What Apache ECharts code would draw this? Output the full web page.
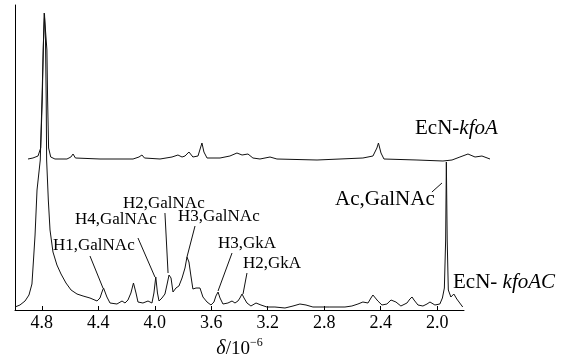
<!DOCTYPE html>
<html>
<head>
<meta charset="utf-8">
<script src="https://cdn.jsdelivr.net/npm/echarts@6/dist/echarts.min.js"></script>
<style>html,body{margin:0;padding:0;background:#fff;}#c{width:563px;height:360px;}</style>
</head>
<body>
<div id="c"></div>
<script>
// ---- data (chemical shift in ppm, relative intensity) ----
var tickValues = [4.8, 4.4, 4.0, 3.6, 3.2, 2.8, 2.4, 2.0];

// EcN-kfoAC (lower trace)
var lowerPpm = [4.990,4.955,4.919,4.891,4.870,4.859,4.848,4.834,4.811,4.799,4.788,4.781,4.774,4.769,4.766,4.754,4.742,4.721,4.693,4.664,4.629,4.593,4.551,4.508,4.459,4.409,4.388,4.374,4.363,4.353,4.339,4.317,4.268,4.232,4.211,4.190,4.169,4.151,4.133,4.119,4.084,4.048,4.020,4.006,3.993,3.981,3.970,3.949,3.928,3.914,3.899,3.885,3.871,3.850,3.829,3.807,3.786,3.772,3.758,3.744,3.730,3.708,3.694,3.680,3.659,3.630,3.602,3.581,3.567,3.552,3.538,3.517,3.482,3.453,3.432,3.411,3.397,3.382,3.368,3.347,3.319,3.283,3.248,3.206,3.149,3.078,3.021,2.972,2.929,2.880,2.760,2.653,2.604,2.561,2.526,2.490,2.469,2.455,2.441,2.420,2.391,2.356,2.327,2.313,2.292,2.257,2.214,2.193,2.178,2.164,2.136,2.101,2.072,2.051,2.037,2.016,1.981,1.963,1.949,1.940,1.935,1.929,1.921,1.903,1.882,1.861,1.840,1.819];
var lowerInt = [3,5,9,15,26,50,75,120,150,210,270,296,270,210,150,110,80,58,45,36,27,20,16,14,12,9,12,18,22,21,13,7,6,9,7,10,17,27,17,8,7,9,7,17,33,17,9,12,16,25,35,32,18,22,24,32,42,53,48,34,21,22,24,22,13,8,5,8,14,18,12,6,7,9,7,9,12,16,12,7,4,7,5,3,3,2,4,6,5,3,3,3,4,6,8,7,12,15,13,9,5,6,10,12,8,4,7,11,13,10,5,4,6,8,7,5,6,12,22,70,148,70,20,13,16,11,7,3];

// EcN-kfoA (upper trace)
var upperPpm = [4.898,4.863,4.827,4.808,4.797,4.790,4.783,4.771,4.764,4.759,4.752,4.737,4.707,4.622,4.594,4.579,4.562,4.388,4.154,4.112,4.091,4.073,3.963,3.878,3.836,3.807,3.786,3.758,3.730,3.694,3.666,3.652,3.630,3.538,3.468,3.418,3.382,3.340,3.305,3.255,3.184,3.135,2.851,2.526,2.455,2.427,2.416,2.398,2.377,2.143,1.959,1.895,1.839,1.782,1.732,1.683,1.626];
var upperInt = [151,152,154,162,210,260,297,297,260,210,162,153,151,151,153,156,152,151,151,153,155,152,151,153,155,153,154,158,153,154,167,158,152,152,154,157,155,156,152,151,153,151,150,152,154,162,167,157,151,150,149,150,153,156,153,154,151];

// peak assignment labels and leader lines [ppmFrom, intFrom, ppmTo, intTo]
var peakLabels = ['H1,GalNAc','H4,GalNAc','H2,GalNAc','H3,GalNAc','H3,GkA','H2,GkA','Ac,GalNAc'];
var leaderLines = [
  [4.459,54,4.367,22],
  [4.119,72,3.999,33],
  [3.928,97,3.906,37],
  [3.715,84,3.772,53],
  [3.453,57,3.552,19],
  [3.347,37,3.375,16],
  [2.037,118,1.966,127]
];

function pairs(xs, ys){ return xs.map(function(v,i){ return [v, ys[i]]; }); }

var FONT = 'Liberation Serif';
var chart = echarts.init(document.getElementById('c'), null, {renderer:'canvas'});

// label layout (pixel positions of text; left, middle)
var labelPos = [[53,246],[75,220],[123,204],[178,217],[218,244],[243,264],[335,201]];
var labelSize = [17,17,17,17,17,17,21];

var graphics = [];
peakLabels.forEach(function(t,i){
  graphics.push({type:'text', left:labelPos[i][0], top:labelPos[i][1]-labelSize[i]*0.55,
    style:{text:t, fontFamily:FONT, fontSize:labelSize[i], fill:'#000'}});
});
graphics.push({type:'text', left:415, top:118, style:{text:'EcN-{i|kfoA}', fontFamily:FONT, fontSize:21, fill:'#000', rich:{i:{fontStyle:'italic', fontFamily:FONT, fontSize:21}}}});
graphics.push({type:'text', left:453, top:272, style:{text:'EcN- {i|kfoAC}', fontFamily:FONT, fontSize:21, fill:'#000', rich:{i:{fontStyle:'italic', fontFamily:FONT, fontSize:21}}}});

chart.setOption({
  animation:false,
  backgroundColor:'#fff',
  grid:[
    {left:15, right:99, top:5, bottom:50, containLabel:false, outerBoundsMode:'none'},
    {left:15, right:73, top:5, bottom:50, containLabel:false, outerBoundsMode:'none'}
  ],
  xAxis:[{
    gridIndex:0, type:'value', inverse:true, min:1.81, max:4.99,
    name:'{i|δ}{n|/10}{s|−6}', nameLocation:'middle', nameGap:26,
    nameTextStyle:{fontFamily:FONT, fontSize:19, color:'#000',
      rich:{
        i:{fontStyle:'italic', fontFamily:FONT, fontSize:20, color:'#000', verticalAlign:'bottom', lineHeight:22},
        n:{fontFamily:FONT, fontSize:19, color:'#000', verticalAlign:'bottom', lineHeight:22},
        s:{fontFamily:FONT, fontSize:12, color:'#000', verticalAlign:'top', lineHeight:22}
      }},
    axisLine:{show:true, onZero:false, lineStyle:{color:'#000', width:1}},
    axisTick:{show:true, inside:true, length:4, customValues:tickValues, lineStyle:{color:'#000'}},
    axisLabel:{show:true, customValues:tickValues, margin:4, fontFamily:FONT, fontSize:18, color:'#000',
      formatter:function(v){ return v.toFixed(1); }},
    splitLine:{show:false}
  },{
    gridIndex:1, type:'value', inverse:true, min:1.626, max:4.99, show:false
  }],
  yAxis:[{
    gridIndex:0, type:'value', min:0, max:305,
    axisLine:{show:true, onZero:false, lineStyle:{color:'#000', width:1}},
    axisTick:{show:false}, axisLabel:{show:false}, splitLine:{show:false}
  },{
    gridIndex:1, type:'value', min:0, max:305, show:false
  }],
  series:[
    {type:'line', name:'EcN-kfoAC', xAxisIndex:0, yAxisIndex:0, data:pairs(lowerPpm, lowerInt), showSymbol:false, symbol:'none',
     lineStyle:{color:'#111', width:1}, clip:false, z:2,
     markLine:{silent:true, symbol:'none', label:{show:false}, lineStyle:{color:'#111', width:1, type:'solid'},
       data:leaderLines.map(function(l){ return [{coord:[l[0],l[1]]},{coord:[l[2],l[3]]}]; })}},
    {type:'line', name:'EcN-kfoA', xAxisIndex:1, yAxisIndex:1, data:pairs(upperPpm, upperInt), showSymbol:false, symbol:'none',
     lineStyle:{color:'#111', width:1}, clip:false, z:3}
  ],
  graphic:graphics
});
</script>
</body>
</html>
